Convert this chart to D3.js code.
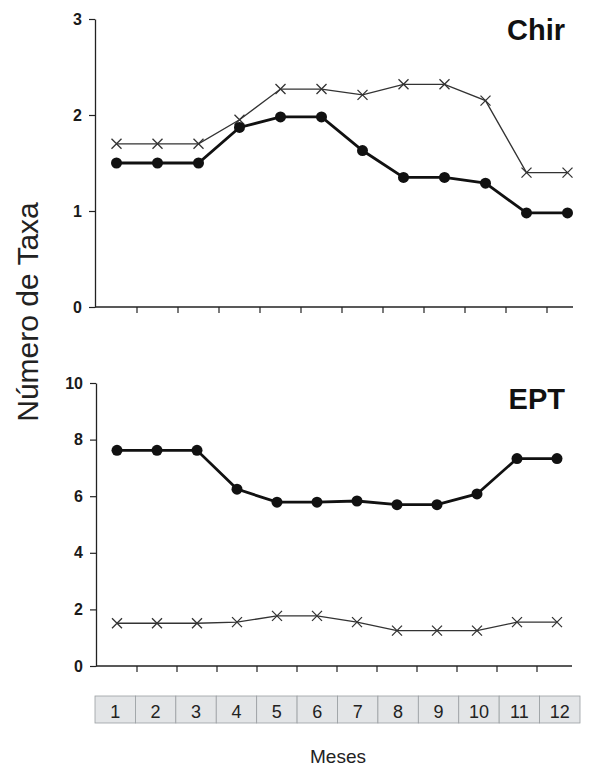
<!DOCTYPE html>
<html>
<head>
<meta charset="utf-8">
<script src="https://cdn.jsdelivr.net/npm/d3@7/dist/d3.min.js"></script>
<style>
  html, body { margin: 0; padding: 0; background: #fff; }
  svg text { font-family: Arial, "Liberation Sans", sans-serif; }
</style>
</head>
<body>
<svg id="chart" width="589" height="769"></svg>
<script>
const months = [1, 2, 3, 4, 5, 6, 7, 8, 9, 10, 11, 12];

// Chir panel
const chirDots = [1.5, 1.5, 1.5, 1.87, 1.98, 1.98, 1.63, 1.35, 1.35, 1.29, 0.98, 0.98];
const chirCross = [1.70, 1.70, 1.70, 1.95, 2.27, 2.27, 2.21, 2.32, 2.32, 2.15, 1.40, 1.40];
const chirTicks = [0, 1, 2, 3];

// EPT panel
const eptDots = [7.62, 7.62, 7.62, 6.25, 5.79, 5.79, 5.83, 5.70, 5.70, 6.08, 7.33, 7.33];
const eptCross = [1.51, 1.51, 1.51, 1.55, 1.77, 1.77, 1.55, 1.25, 1.25, 1.25, 1.55, 1.55];
const eptTicks = [0, 2, 4, 6, 8, 10];

const svg = d3.select('#chart');

function drawPanel(cfg) {
    const { dots, cross, ticks, yMax, xRange, yRange, axisEnd, label, labelY } = cfg;
    const x = d3.scaleBand().domain(months).range(xRange);
    const y = d3.scaleLinear().domain([0, yMax]).range(yRange);
    const g = svg.append('g');
    const x0 = xRange[0] - 1;

    // y axis
    const yAxis = g.append('g')
        .attr('transform', `translate(${x0},0)`)
        .call(d3.axisLeft(y).tickValues(ticks).tickFormat(d3.format('d'))
            .tickSize(6).tickSizeOuter(0).tickPadding(7));
    yAxis.select('.domain').attr('stroke', '#222').attr('stroke-width', 1.3);
    yAxis.selectAll('.tick line').attr('stroke', '#222').attr('stroke-width', 1.2);
    yAxis.selectAll('.tick text')
        .attr('fill', '#1a1a1a')
        .style('font-size', '16px')
        .style('font-weight', 'bold');

    // x axis
    g.append('line')
        .attr('x1', x0).attr('x2', axisEnd)
        .attr('y1', y(0)).attr('y2', y(0))
        .attr('stroke', '#222').attr('stroke-width', 1.3);
    g.selectAll('.xtick')
        .data(months.slice(1))
        .enter()
        .append('line')
        .attr('x1', d => x(d)).attr('x2', d => x(d))
        .attr('y1', y(0)).attr('y2', y(0) + 6)
        .attr('stroke', '#222').attr('stroke-width', 1.2);

    const cx = d => x(d) + x.bandwidth() / 2;

    // cross series
    const seriesLine = d3.line().x((v, i) => cx(months[i])).y(v => y(v));
    g.append('path')
        .datum(cross)
        .attr('d', seriesLine)
        .attr('fill', 'none')
        .attr('stroke', '#333')
        .attr('stroke-width', 1.3);
    const s = 5;
    g.selectAll('.cross')
        .data(cross)
        .enter()
        .append('path')
        .attr('d', (v, i) => {
            const px = cx(months[i]), py = y(v);
            return `M${px - s},${py - s}L${px + s},${py + s}M${px - s},${py + s}L${px + s},${py - s}`;
        })
        .attr('stroke', '#333')
        .attr('stroke-width', 1.3);

    // dot series
    g.append('path')
        .datum(dots)
        .attr('d', seriesLine)
        .attr('fill', 'none')
        .attr('stroke', '#111')
        .attr('stroke-width', 2.8);
    g.selectAll('.dot')
        .data(dots)
        .enter()
        .append('circle')
        .attr('cx', (v, i) => cx(months[i]))
        .attr('cy', v => y(v))
        .attr('r', 5.5)
        .attr('fill', '#111');

    g.append('text')
        .attr('x', 565)
        .attr('y', labelY)
        .attr('text-anchor', 'end')
        .attr('fill', '#111')
        .style('font-size', '29px')
        .style('font-weight', 'bold')
        .text(label);
}

drawPanel({
    dots: chirDots, cross: chirCross, ticks: chirTicks, yMax: 3,
    xRange: [96, 588], yRange: [307, 19], axisEnd: 573,
    label: 'Chir', labelY: 40
});

drawPanel({
    dots: eptDots, cross: eptCross, ticks: eptTicks, yMax: 10,
    xRange: [97, 577], yRange: [666, 383], axisEnd: 572,
    label: 'EPT', labelY: 409
});

// month strip
const xm = d3.scaleBand().domain(months).range([95, 580]);
const strip = svg.append('g');
strip.selectAll('rect')
    .data(months)
    .enter()
    .append('rect')
    .attr('x', d => xm(d))
    .attr('y', 696)
    .attr('width', xm.bandwidth())
    .attr('height', 27)
    .attr('fill', '#e3e5e7')
    .attr('stroke', '#9a9ea2')
    .attr('stroke-width', 0.8);
strip.selectAll('text')
    .data(months)
    .enter()
    .append('text')
    .attr('x', d => xm(d) + xm.bandwidth() / 2)
    .attr('y', 718)
    .attr('text-anchor', 'middle')
    .attr('fill', '#222')
    .style('font-size', '18px')
    .text(d => d);

svg.append('text')
    .attr('x', 338)
    .attr('y', 763)
    .attr('text-anchor', 'middle')
    .attr('fill', '#222')
    .style('font-size', '19px')
    .text('Meses');

svg.append('text')
    .attr('transform', 'translate(38,312) rotate(-90)')
    .attr('text-anchor', 'middle')
    .attr('fill', '#222')
    .style('font-size', '30px')
    .text('Número de Taxa');
</script>
</body>
</html>
